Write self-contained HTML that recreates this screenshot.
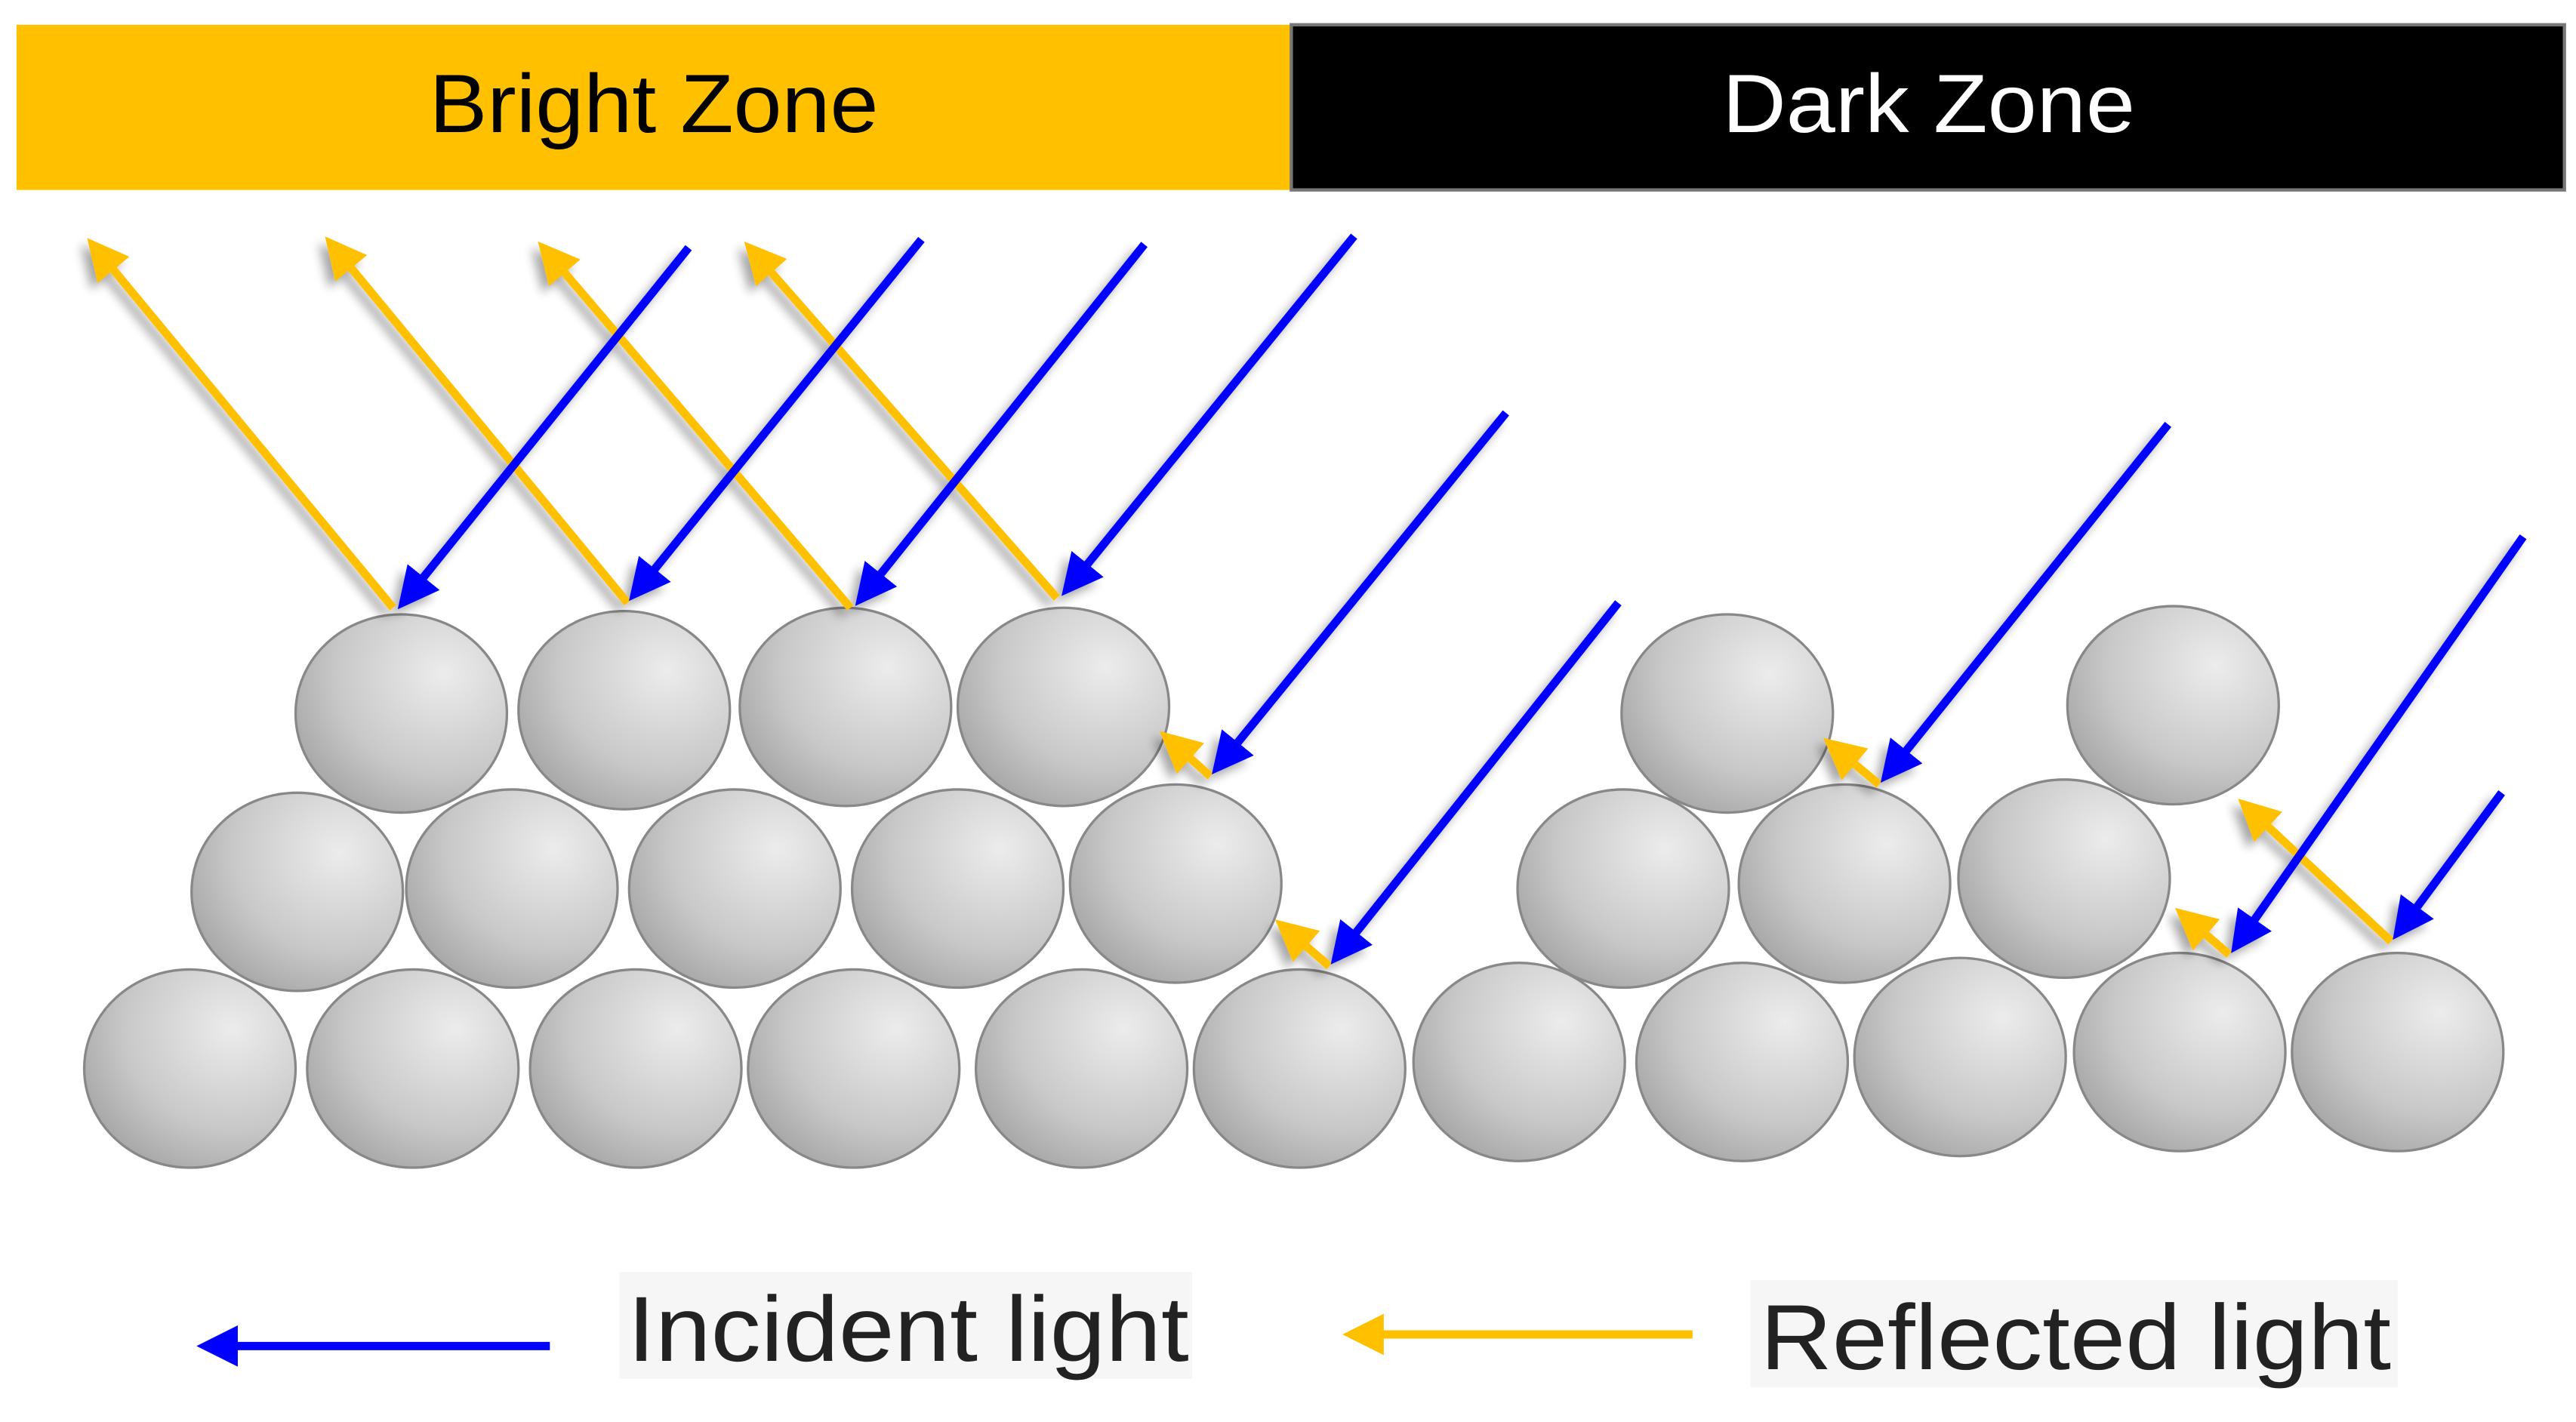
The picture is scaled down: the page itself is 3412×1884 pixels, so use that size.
<!DOCTYPE html>
<html><head><meta charset="utf-8"><style>
html,body{margin:0;padding:0;background:#fff;width:3412px;height:1884px;overflow:hidden}
svg{display:block}
</style></head><body>
<svg width="3412" height="1884" viewBox="0 0 1560 861" preserveAspectRatio="none" xmlns="http://www.w3.org/2000/svg">
<defs>
<radialGradient id="g" cx="0.7" cy="0.3" r="0.85">
<stop offset="0" stop-color="#ececec"/><stop offset="0.6" stop-color="#c8c8c8"/><stop offset="1" stop-color="#a0a0a0"/>
</radialGradient>
<filter id="sh" x="-20%" y="-20%" width="140%" height="140%">
<feGaussianBlur in="SourceAlpha" stdDeviation="3"/><feOffset dx="-4" dy="4"/>
<feComponentTransfer><feFuncA type="linear" slope="0.35"/></feComponentTransfer>
<feMerge><feMergeNode/><feMergeNode in="SourceGraphic"/></feMerge>
</filter>
<marker id="ab" markerWidth="5" markerHeight="5" refX="4" refY="2.5" orient="auto" markerUnits="strokeWidth"><path d="M0,0 L5,2.5 L0,5 Z" fill="#0000ff"/></marker>
<marker id="ay" markerWidth="5" markerHeight="5" refX="4" refY="2.5" orient="auto" markerUnits="strokeWidth"><path d="M0,0 L5,2.5 L0,5 Z" fill="#ffc000"/></marker>
</defs>
<rect x="10" y="15" width="772" height="100" fill="#ffc000"/>
<rect x="782" y="15" width="771" height="100" fill="#000" stroke="#777" stroke-width="2"/>
<text x="260" y="80" font-family="Liberation Sans, sans-serif" font-size="50" textLength="272" lengthAdjust="spacingAndGlyphs" fill="#000">Bright Zone</text>
<text x="1043" y="80" font-family="Liberation Sans, sans-serif" font-size="50" textLength="250" lengthAdjust="spacingAndGlyphs" fill="#fff">Dark Zone</text>
<g stroke="#888" stroke-width="1.5" fill="url(#g)">
<ellipse cx="243" cy="432" rx="64" ry="60"/><ellipse cx="378" cy="430" rx="64" ry="60"/><ellipse cx="512" cy="428" rx="64" ry="60"/><ellipse cx="644" cy="428" rx="64" ry="60"/>
<ellipse cx="1046" cy="432" rx="64" ry="60"/><ellipse cx="1316" cy="427" rx="64" ry="60"/>
<ellipse cx="180" cy="540" rx="64" ry="60"/><ellipse cx="310" cy="538" rx="64" ry="60"/><ellipse cx="445" cy="538" rx="64" ry="60"/><ellipse cx="580" cy="538" rx="64" ry="60"/><ellipse cx="712" cy="535" rx="64" ry="60"/>
<ellipse cx="983" cy="538" rx="64" ry="60"/><ellipse cx="1117" cy="535" rx="64" ry="60"/><ellipse cx="1250" cy="532" rx="64" ry="60"/>
<ellipse cx="115" cy="647" rx="64" ry="60"/><ellipse cx="250" cy="647" rx="64" ry="60"/><ellipse cx="385" cy="647" rx="64" ry="60"/><ellipse cx="517" cy="647" rx="64" ry="60"/><ellipse cx="655" cy="647" rx="64" ry="60"/><ellipse cx="787" cy="647" rx="64" ry="60"/><ellipse cx="920" cy="643" rx="64" ry="60"/><ellipse cx="1055" cy="643" rx="64" ry="60"/><ellipse cx="1187" cy="640" rx="64" ry="60"/><ellipse cx="1320" cy="637" rx="64" ry="60"/><ellipse cx="1452" cy="637" rx="64" ry="60"/>
</g>
<g filter="url(#sh)" stroke-width="5" fill="none">
<g stroke="#ffc000" marker-end="url(#ay)">
<line x1="238" y1="368" x2="56" y2="148"/><line x1="380" y1="365" x2="200" y2="147"/><line x1="515" y1="368" x2="329" y2="150"/><line x1="640" y1="362" x2="454" y2="150"/>
<line x1="733" y1="470" x2="706" y2="446"/><line x1="805" y1="585" x2="776" y2="560"/><line x1="1138" y1="475" x2="1108" y2="450"/><line x1="1350" y1="578" x2="1321" y2="553"/><line x1="1448" y1="570" x2="1359" y2="487"/>
</g>
<g stroke="#0000ff" marker-end="url(#ab)">
<line x1="417" y1="150" x2="244" y2="365"/><line x1="558" y1="145" x2="384" y2="360"/><line x1="693" y1="148" x2="521" y2="363"/><line x1="820" y1="143" x2="646" y2="357"/>
<line x1="912" y1="250" x2="737" y2="465"/><line x1="980" y1="365" x2="809" y2="580"/><line x1="1313" y1="257" x2="1142" y2="470"/><line x1="1528" y1="325" x2="1354" y2="573"/><line x1="1515" y1="480" x2="1452" y2="565"/>
</g>
</g>
<line x1="333" y1="815" x2="124" y2="815" stroke="#0000ff" stroke-width="5" marker-end="url(#ab)"/>
<line x1="1025" y1="808" x2="818" y2="808" stroke="#ffc000" stroke-width="5" marker-end="url(#ay)"/>
<rect x="375" y="770" width="347" height="65" fill="#f6f6f6"/>
<rect x="1060" y="775" width="392" height="65" fill="#f6f6f6"/>
<text x="380" y="824" font-family="Liberation Sans, sans-serif" font-size="56" textLength="340" lengthAdjust="spacingAndGlyphs" fill="#222">Incident light</text>
<text x="1066" y="829" font-family="Liberation Sans, sans-serif" font-size="56" textLength="382" lengthAdjust="spacingAndGlyphs" fill="#222">Reflected light</text>
</svg>
</body></html>
